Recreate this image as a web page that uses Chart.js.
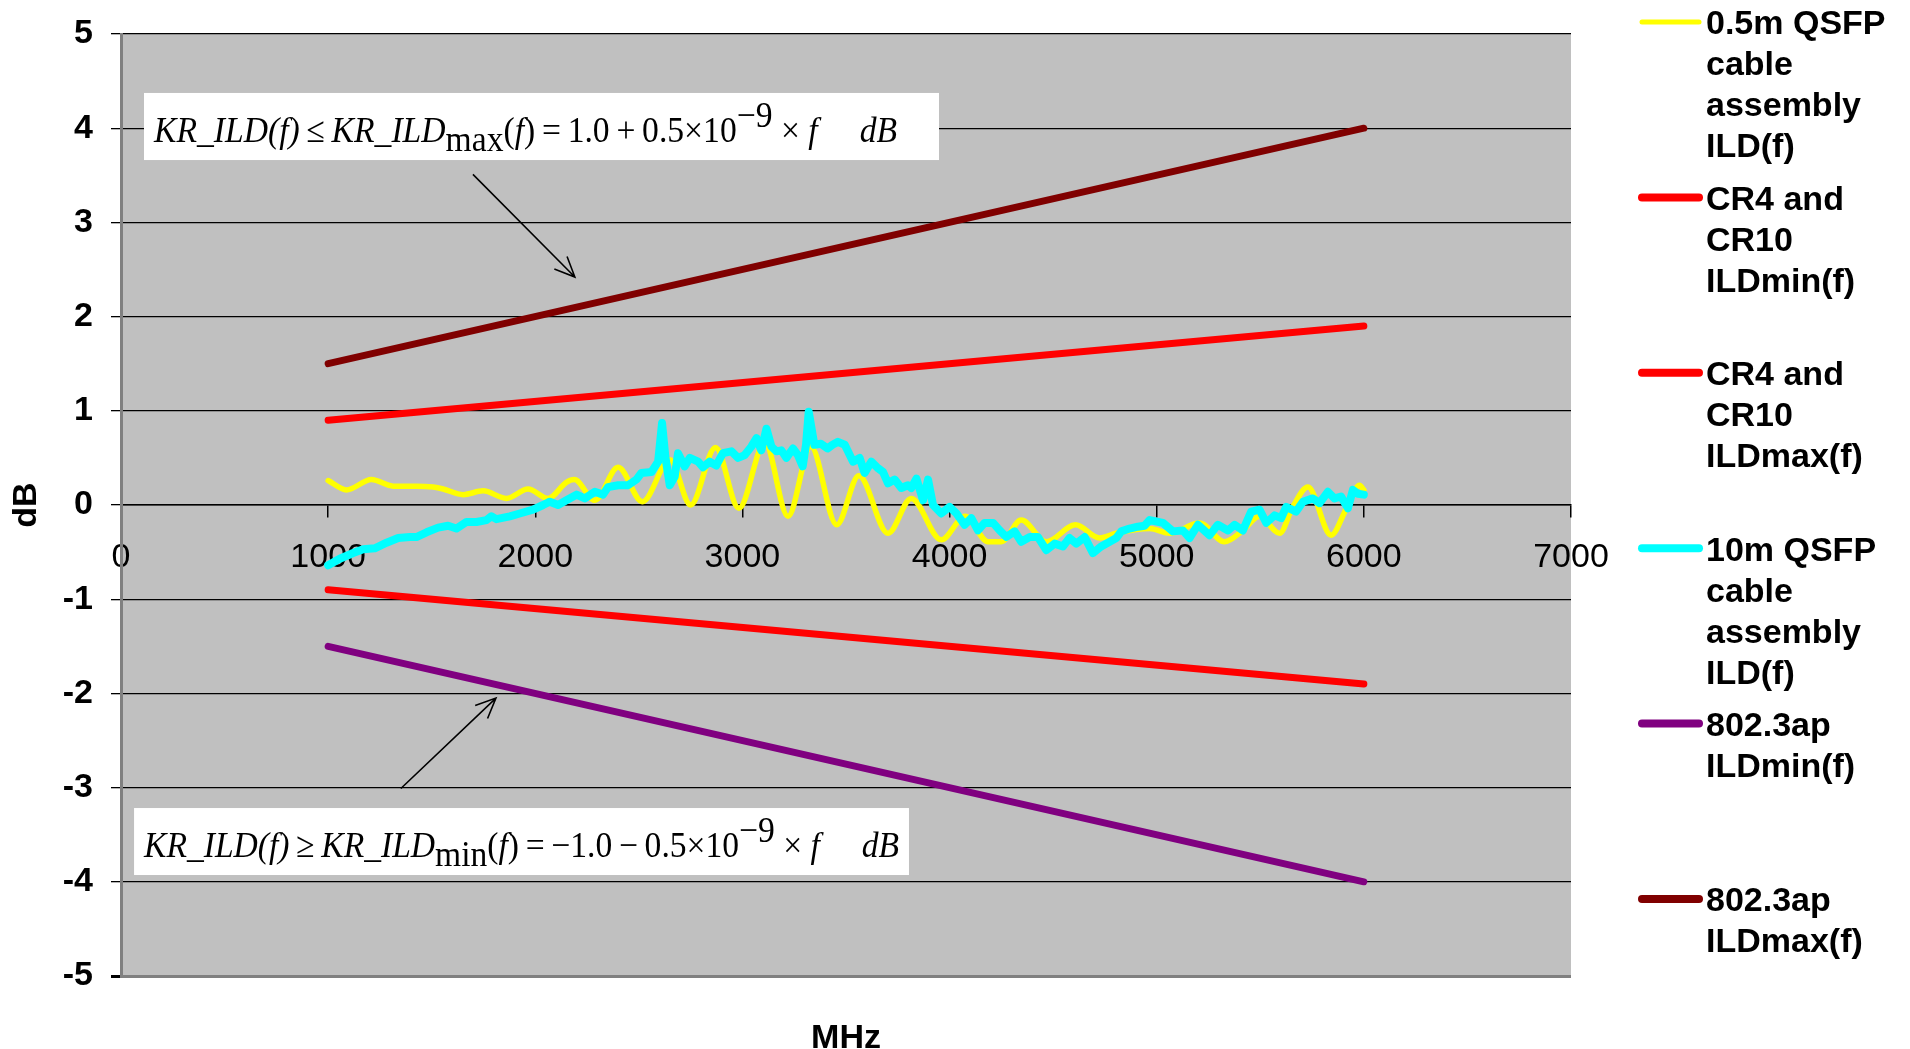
<!DOCTYPE html>
<html>
<head>
<meta charset="utf-8">
<title>ILD vs frequency</title>
<script src="https://cdn.jsdelivr.net/npm/chart.js@4.4.1/dist/chart.umd.min.js"></script>
<style>
  html, body { margin: 0; padding: 0; background: #fff; }
  #ild { display: block; }
</style>
</head>
<body>
<canvas id="ild" width="1910" height="1049"></canvas>
<script>
/* =================================================================
    Data
================================================================= */

var seriesLabels = [
    "0.5m QSFP\ncable\nassembly\nILD(f)",
    "CR4 and\nCR10\nILDmin(f)",
    "CR4 and\nCR10\nILDmax(f)",
    "10m QSFP\ncable\nassembly\nILD(f)",
    "802.3ap\nILDmin(f)",
    "802.3ap\nILDmax(f)"
];

var xTickValues = [0, 1000, 2000, 3000, 4000, 5000, 6000, 7000];
var yTickValues = [-5, -4, -3, -2, -1, 0, 1, 2, 3, 4, 5];

// 0.5m cable (yellow)
var shortFreq = [
    1000, 1088, 1209, 1314, 1426, 1507, 1555, 1652, 1748, 1861,
    1965, 2062, 2150, 2188, 2288, 2400, 2517, 2650, 2750, 2870,
    2983, 3108, 3220, 3330, 3455, 3562, 3703, 3815, 3960, 4075,
    4186, 4250, 4346, 4467, 4608, 4724, 4805, 4901, 4966, 5062,
    5207, 5327, 5416, 5496, 5593, 5657, 5730, 5842, 5915, 5979,
    6000
];
var shortIld = [
    0.26, 0.16, 0.27, 0.20, 0.20, 0.19, 0.17, 0.11, 0.15, 0.07,
    0.17, 0.07, 0.24, 0.27, 0.05, 0.40, 0.035, 0.48, 0.0, 0.61,
    -0.035, 0.66, -0.12, 0.62, -0.21, 0.31, -0.30, 0.07, -0.37, -0.12,
    -0.39, -0.39, -0.16, -0.39, -0.21, -0.35, -0.30, -0.26, -0.25, -0.30,
    -0.19, -0.39, -0.27, -0.12, -0.30, -0.02, 0.19, -0.32, -0.04, 0.21,
    0.16
];

// 10m cable (cyan)
var longFreq = [
    1000, 1056, 1121, 1169, 1225, 1282, 1338, 1394, 1426, 1475,
    1531, 1579, 1619, 1668, 1716, 1764, 1788, 1812, 1877, 1925,
    1989, 2038, 2070, 2110, 2150, 2199, 2239, 2287, 2327, 2351,
    2400, 2448, 2488, 2512, 2561, 2593, 2612, 2628, 2649, 2673,
    2689, 2721, 2746, 2786, 2810, 2842, 2874, 2906, 2947, 2979,
    3011, 3043, 3068, 3091, 3116, 3140, 3164, 3188, 3212, 3244,
    3268, 3291, 3307, 3320, 3347, 3379, 3411, 3435, 3461, 3494,
    3534, 3566, 3590, 3622, 3655, 3679, 3703, 3735, 3767, 3799,
    3815, 3840, 3872, 3896, 3920, 3960, 4000, 4033, 4073, 4105,
    4137, 4169, 4210, 4242, 4274, 4314, 4346, 4387, 4427, 4467,
    4507, 4547, 4579, 4612, 4652, 4692, 4732, 4773, 4805, 4829,
    4869, 4909, 4941, 4966, 5030, 5078, 5126, 5159, 5199, 5255,
    5295, 5344, 5376, 5416, 5456, 5496, 5529, 5569, 5601, 5625,
    5673, 5706, 5754, 5786, 5826, 5858, 5890, 5923, 5947, 5971,
    6000
];
var longIld = [
    -0.64, -0.57, -0.51, -0.47, -0.46, -0.40, -0.35, -0.34, -0.34, -0.29,
    -0.24, -0.22, -0.25, -0.18, -0.18, -0.16, -0.12, -0.15, -0.12, -0.09,
    -0.05, 0.0, 0.035, 0.0, 0.05, 0.11, 0.07, 0.14, 0.11, 0.19,
    0.21, 0.21, 0.27, 0.34, 0.35, 0.46, 0.87, 0.51, 0.21, 0.30,
    0.55, 0.41, 0.50, 0.46, 0.40, 0.46, 0.42, 0.55, 0.57, 0.50,
    0.53, 0.62, 0.71, 0.58, 0.81, 0.62, 0.57, 0.58, 0.50, 0.60,
    0.53, 0.41, 0.64, 0.99, 0.64, 0.65, 0.60, 0.64, 0.67, 0.64,
    0.46, 0.50, 0.34, 0.46, 0.39, 0.35, 0.23, 0.27, 0.18, 0.21,
    0.18, 0.28, 0.05, 0.27, 0.0, -0.09, -0.02, -0.09, -0.21, -0.14,
    -0.27, -0.19, -0.19, -0.27, -0.34, -0.28, -0.39, -0.34, -0.34, -0.48,
    -0.41, -0.44, -0.35, -0.41, -0.34, -0.51, -0.44, -0.39, -0.35, -0.28,
    -0.25, -0.23, -0.22, -0.16, -0.19, -0.28, -0.27, -0.35, -0.21, -0.32,
    -0.21, -0.27, -0.21, -0.27, -0.07, -0.05, -0.19, -0.11, -0.14, -0.02,
    -0.07, 0.035, 0.07, 0.02, 0.14, 0.07, 0.09, -0.035, 0.16, 0.12,
    0.11
];

// limit lines
var limitFreq = [1000, 6000];
var cr4MinIld = [-0.9, -1.9];
var cr4MaxIld = [0.9, 1.9];
var apMinIld = [-1.5, -4.0];
var apMaxIld = [1.5, 4.0];

function pairs(xs, ys) {
    return xs.map(function (x, i) { return { x: x, y: ys[i] }; });
}

var SANS = '"Liberation Sans", Arial, Helvetica, sans-serif';
var SERIF = '"Liberation Serif", "Times New Roman", serif';
var TH = '\u2009';

/* =================================================================
    Plugins: grey plot area, formulas, arrows, legend, titles
================================================================= */

var plotBg = {
    id: 'plotBg',
    beforeDraw: function (chart) {
        var a = chart.chartArea, c = chart.ctx;
        c.save();
        c.fillStyle = '#c0c0c0';
        c.fillRect(a.left, a.top, a.right - a.left, a.bottom - a.top);
        c.restore();
    }
};

var formulaMax = [
    { t: 'KR_ILD(f)', it: true },
    { t: TH + '≤' + TH, it: false },
    { t: 'KR_ILD', it: true },
    { t: 'max', it: false, dy: 9 },
    { t: '(', it: false }, { t: 'f', it: true }, { t: ')', it: false },
    { t: TH + '=' + TH + '1.0' + TH + '+' + TH + '0.5×10', it: false },
    { t: '−9', it: false, dy: -15 },
    { t: ' × ', it: false }, { t: 'f', it: true },
    { t: '     dB', it: true }
];
var formulaMin = [
    { t: 'KR_ILD(f)', it: true },
    { t: TH + '≥' + TH, it: false },
    { t: 'KR_ILD', it: true },
    { t: 'min', it: false, dy: 9 },
    { t: '(', it: false }, { t: 'f', it: true }, { t: ')', it: false },
    { t: TH + '=' + TH + '−1.0' + TH + '−' + TH + '0.5×10', it: false },
    { t: '−9', it: false, dy: -15 },
    { t: ' × ', it: false }, { t: 'f', it: true },
    { t: '     dB', it: true }
];

// box corners and arrow ends in data units (MHz, dB)
var notes = [
    { parts: formulaMax, f0: 111, f1: 3949, v0: 4.374, v1: 3.662, textWidth: 743,
      arrow: [1699, 3.51, 2191, 2.42] },
    { parts: formulaMin, f0: 63, f1: 3804, v0: -3.217, v1: -3.928, textWidth: 755,
      arrow: [1351, -3.01, 1810, -2.05] }
];

function drawFormula(c, parts, left, baseline, width) {
    var size = 36, total = 0;
    parts.forEach(function (p) {
        c.font = (p.it ? 'italic ' : '') + size + 'px ' + SERIF;
        p.w = c.measureText(p.t).width;
        total += p.w;
    });
    c.save();
    c.translate(left, baseline);
    c.scale(width / total, 1);
    c.fillStyle = '#000';
    c.textBaseline = 'alphabetic';
    var x = 0;
    parts.forEach(function (p) {
        c.font = (p.it ? 'italic ' : '') + size + 'px ' + SERIF;
        c.fillText(p.t, x, p.dy || 0);
        x += p.w;
    });
    c.restore();
}

function drawArrow(c, x0, y0, x1, y1) {
    var ang = Math.atan2(y1 - y0, x1 - x0), len = 22, spread = 0.42;
    c.beginPath();
    c.moveTo(x0, y0);
    c.lineTo(x1, y1);
    c.moveTo(x1 - len * Math.cos(ang - spread), y1 - len * Math.sin(ang - spread));
    c.lineTo(x1, y1);
    c.lineTo(x1 - len * Math.cos(ang + spread), y1 - len * Math.sin(ang + spread));
    c.stroke();
}

var extras = {
    id: 'extras',
    afterDraw: function (chart) {
        var c = chart.ctx, sx = chart.scales.x, sy = chart.scales.y;
        c.save();

        notes.forEach(function (n) {
            var l = sx.getPixelForValue(n.f0), r = sx.getPixelForValue(n.f1);
            var t = sy.getPixelForValue(n.v0), b = sy.getPixelForValue(n.v1);
            c.fillStyle = '#fff';
            c.fillRect(l, t, r - l, b - t);
            drawFormula(c, n.parts, l + 10, t + (b - t) * 0.73, n.textWidth);
            c.strokeStyle = '#000';
            c.lineWidth = 1.6;
            drawArrow(c, sx.getPixelForValue(n.arrow[0]), sy.getPixelForValue(n.arrow[1]),
                         sx.getPixelForValue(n.arrow[2]), sy.getPixelForValue(n.arrow[3]));
        });

        // legend
        var lx0 = 1642, lx1 = 1699, tx = 1706, top = 22, step = 175.4, lh = 41;
        chart.data.datasets.forEach(function (ds, i) {
            var y = top + i * step;
            c.strokeStyle = ds.borderColor;
            c.lineWidth = ds.legendWidth;
            c.lineCap = 'round';
            c.beginPath();
            c.moveTo(lx0, y);
            c.lineTo(lx1, y);
            c.stroke();
            c.fillStyle = '#000';
            c.font = 'bold 34px ' + SANS;
            c.textAlign = 'left';
            c.textBaseline = 'middle';
            ds.label.split('\n').forEach(function (line, j) {
                c.fillText(line, tx, y + 3 + j * lh);
            });
        });

        // axis titles
        c.fillStyle = '#000';
        c.font = 'bold 34px ' + SANS;
        c.textAlign = 'center';
        c.textBaseline = 'middle';
        c.fillText('MHz', (chart.chartArea.left + chart.chartArea.right) / 2, 1039);
        c.translate(27, (chart.chartArea.top + chart.chartArea.bottom) / 2);
        c.rotate(-Math.PI / 2);
        c.fillText('dB', 0, 0);
        c.restore();
    }
};

/* =================================================================
    Chart
================================================================= */

var ctx = document.getElementById("ild");

function series(i, xs, ys, color, width, legendWidth, smooth) {
    return {
        label: seriesLabels[i],
        data: pairs(xs, ys),
        borderColor: color,
        borderWidth: width,
        legendWidth: legendWidth,
        pointRadius: 0,
        fill: false,
        borderCapStyle: 'round',
        borderJoinStyle: 'round',
        cubicInterpolationMode: smooth ? 'monotone' : 'default',
        tension: 0,
        order: 6 - i
    };
}

var ildChart = new Chart(ctx, {
    type: 'line',
    data: {
        datasets: [
            series(0, shortFreq, shortIld, '#ffff00', 5.5, 5, true),
            series(1, limitFreq, cr4MinIld, '#ff0000', 7, 8, false),
            series(2, limitFreq, cr4MaxIld, '#ff0000', 7, 8, false),
            series(3, longFreq, longIld, '#00ffff', 8, 8, false),
            series(4, limitFreq, apMinIld, '#800080', 7, 8, false),
            series(5, limitFreq, apMaxIld, '#800000', 7, 8, false)
        ]
    },
    options: {
        responsive: false,
        animation: false,
        events: [],
        layout: { padding: { top: 34, bottom: 73, left: 0, right: 339 } },
        plugins: {
            legend: { display: false },
            tooltip: { enabled: false }
        },
        scales: {
            x: {
                type: 'linear',
                min: 0,
                max: 7000,
                position: { y: 0 },
                afterBuildTicks: function (s) {
                    s.ticks = xTickValues.map(function (v) { return { value: v }; });
                },
                ticks: {
                    color: '#000',
                    font: { family: SANS, size: 34 },
                    padding: 20,
                    maxRotation: 0,
                    autoSkip: false,
                    callback: function (v) { return String(v); }
                },
                grid: {
                    drawOnChartArea: false,
                    color: '#000',
                    lineWidth: 1.5,
                    tickLength: 12
                },
                border: { color: '#000', width: 1.5 }
            },
            y: {
                type: 'linear',
                min: -5,
                max: 5,
                afterBuildTicks: function (s) {
                    s.ticks = yTickValues.map(function (v) { return { value: v }; });
                },
                afterFit: function (s) {
                    s.width = 121;
                    s.paddingTop = 0;
                    s.paddingBottom = 0;
                },
                ticks: {
                    color: '#000',
                    font: { family: SANS, size: 34, weight: 'bold' },
                    padding: 18
                },
                grid: {
                    color: function (c) { return c.tick && c.tick.value === -5 ? '#808080' : '#000'; },
                    lineWidth: function (c) { return c.tick && c.tick.value === -5 ? 3 : 1.3; },
                    tickColor: '#000',
                    tickLength: 10
                },
                border: { color: '#808080', width: 3 }
            }
        }
    },
    plugins: [plotBg, extras]
});
</script>
</body>
</html>
